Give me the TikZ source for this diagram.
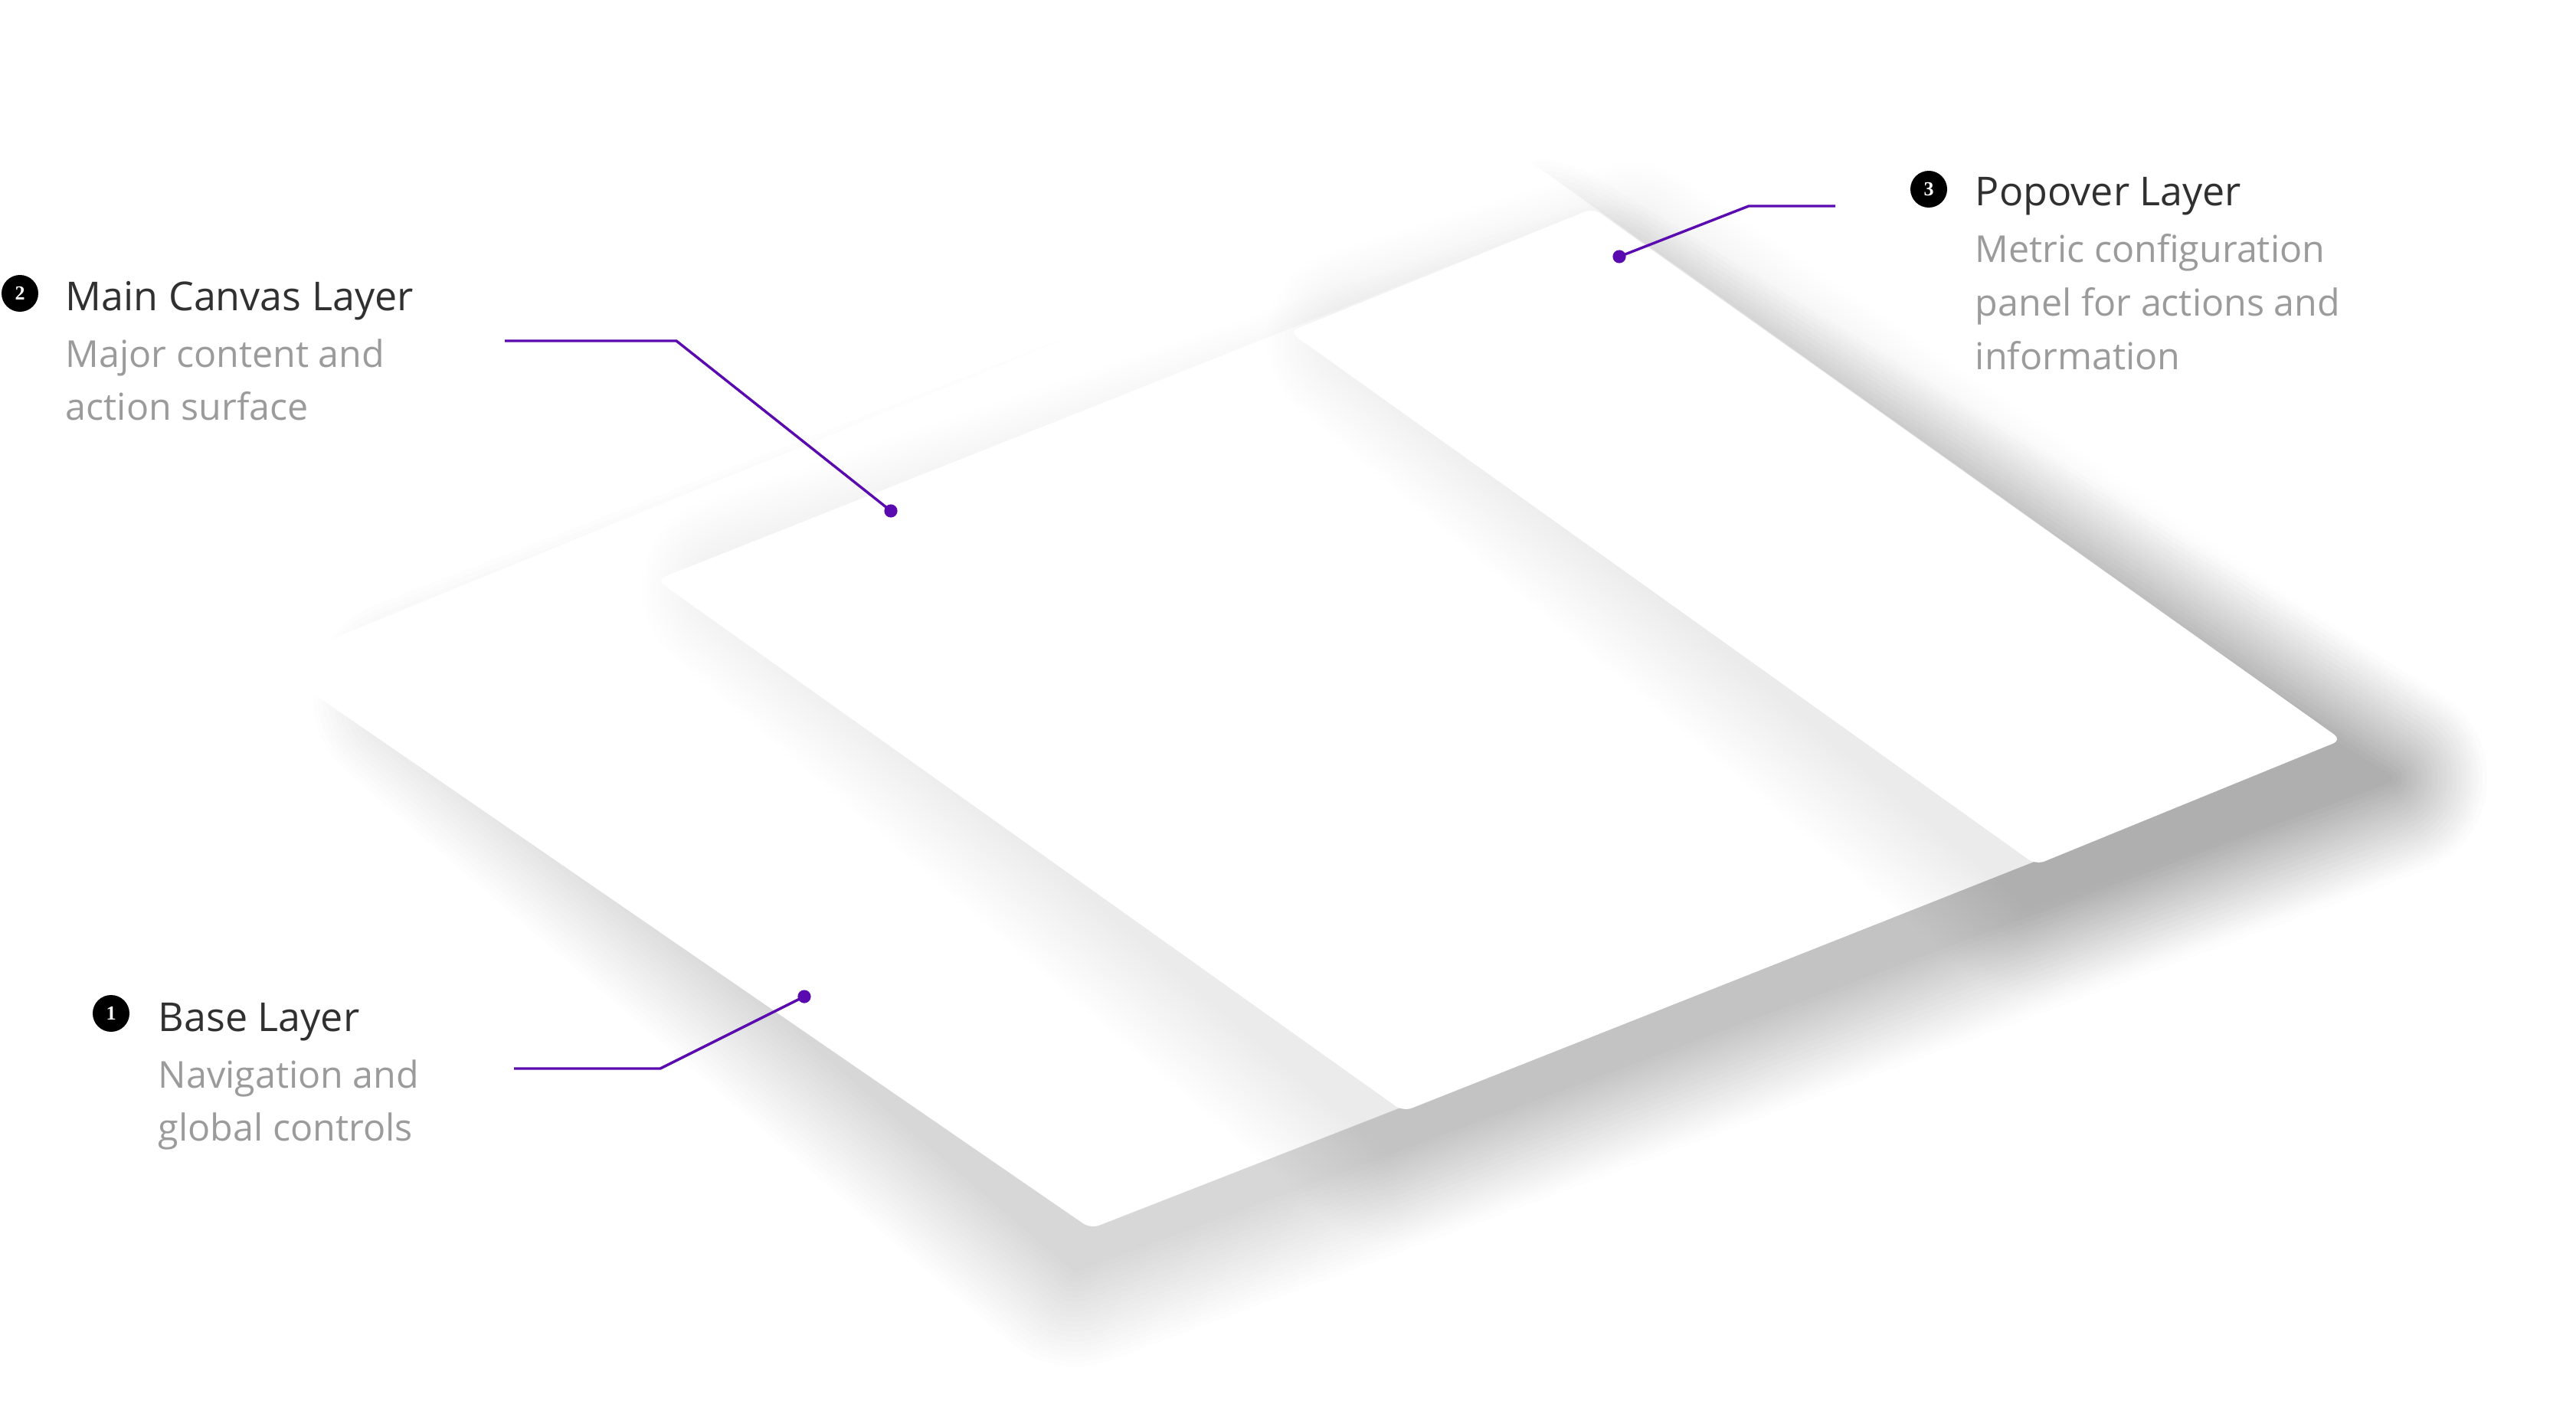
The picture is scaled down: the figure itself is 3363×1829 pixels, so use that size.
\documentclass[tikz,border=0pt]{standalone}
\usepackage{fontspec}
\setmainfont{Open Sans}
\newfontfamily\badgefont{Liberation Serif}
\definecolor{conncol}{HTML}{5A0BB0}
\definecolor{titlecol}{HTML}{303030}
\definecolor{desccol}{HTML}{9B9B9B}
\tikzset{
  layerfill/.style={fill=white, rounded corners=3pt},
  conn/.style={draw=conncol, line width=0.85pt, line join=miter},
  dotnode/.style={circle, fill=conncol, inner sep=0pt, minimum size=4.3pt},
  badge/.style={circle, fill=black, inner sep=0pt, minimum size=12pt, text=white,
    font=\badgefont\bfseries\fontsize{6.5}{6.5}\selectfont},
  titletext/.style={anchor=base west, inner sep=0pt, text=titlecol,
    font=\fontsize{13}{15}\selectfont},
  desctext/.style={anchor=base west, inner sep=0pt, text=desccol,
    font=\fontsize{12.1}{14}\selectfont},
}
% #1-#4 corners, #5 steps, #6 max stroke width (px), #7 opacity per step
\newcommand\layershadow[7]{%
  \foreach \k in {1,...,#5}{%
    \begin{scope}[transparency group, opacity=#7]
      \path (0,0) rectangle (3363,1829);
      \fill[black] #1 -- #2 -- #3 -- #4 -- cycle;
      \draw[black, line join=round, line width={\k*#6/#5*0.25pt}] #1 -- #2 -- #3 -- #4 -- cycle;
    \end{scope}
  }%
}
\begin{document}
\begin{tikzpicture}[x=0.25pt,y=-0.25pt]
\useasboundingbox (0,0) rectangle (3363,1829);
\fill[white] (0,0) rectangle (3363,1829);

% layer corners
\coordinate (bTL) at (353,867);
\coordinate (bB)  at (1424,1604);
\coordinate (R)   at (3057,966);
\coordinate (bT)  at (1982,200);
\coordinate (mTL) at (857,757);
\coordinate (mBL) at (1832,1451);
\coordinate (T)   at (2080,272);
\coordinate (pTL) at (1683,433);
\coordinate (pBL) at (2658,1129);

% base layer
\layershadow{(539,910)}{(1404,1654)}{(3117,1016)}{(2012,340)}{20}{260}{0.008}
\fill[layerfill] (bTL) -- (bB) -- (R) -- (bT) -- cycle;

% main canvas layer
\layershadow{(957,767)}{(1812,1501)}{(3117,1016)}{(2100,382)}{20}{240}{0.005}
\fill[layerfill] (mTL) -- (mBL) -- (R) -- (T) -- cycle;

% popover layer
\layershadow{(1773,443)}{(2648,1179)}{(3127,1016)}{(2130,332)}{20}{240}{0.005}
\fill[layerfill] (pTL) -- (pBL) -- (R) -- (T) -- cycle;

% connectors
\node[dotnode] (d1) at (1050,1301) {};
\coordinate (e1) at (862,1395);
\coordinate (s1) at (671,1395);
\draw[conn] (d1.center) -- (e1) -- (s1);

\node[dotnode] (d2) at (1163,667) {};
\coordinate (e2) at (883,445);
\coordinate (s2) at (659,445);
\draw[conn] (d2.center) -- (e2) -- (s2);

\node[dotnode] (d3) at (2114,335) {};
\coordinate (e3) at (2283,269);
\coordinate (s3) at (2396,269);
\draw[conn] (d3.center) -- (e3) -- (s3);

% badges
\node[badge] (b1) at (145,1323) {1};
\node[badge] (b2) at (26,383) {2};
\node[badge] (b3) at (2518,247) {3};

% texts
\node[titletext] (t1) at (206,1346) {Base Layer};
\node[desctext] (t1a) at (206,1420) {Navigation and};
\node[desctext] (t1b) at (206,1489) {global controls};

\node[titletext] (t2) at (85,406) {Main Canvas Layer};
\node[desctext] (t2a) at (85,480) {Major content and};
\node[desctext] (t2b) at (85,549) {action surface};

\node[titletext] (t3) at (2578,269) {Popover Layer};
\node[desctext] (t3a) at (2578,343) {Metric configuration};
\node[desctext] (t3b) at (2578,413) {panel for actions and};
\node[desctext] (t3c) at (2578,483) {information};
\end{tikzpicture}
\end{document}
